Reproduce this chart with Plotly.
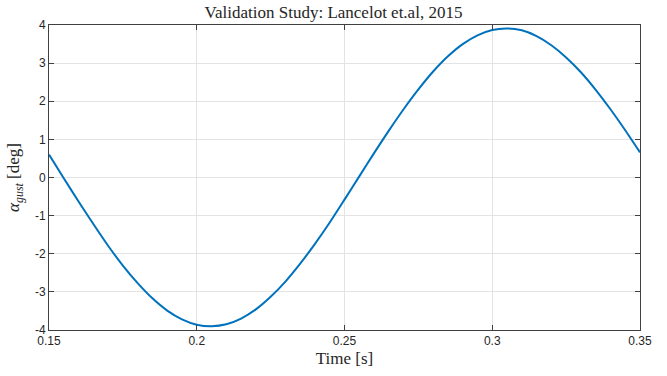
import plotly.graph_objects as go

time_s = [0.150, 0.155, 0.160, 0.165, 0.170, 0.175, 0.180, 0.185, 0.190, 0.195,
          0.200, 0.205, 0.210, 0.215, 0.220, 0.225, 0.230, 0.235, 0.240, 0.245,
          0.250, 0.255, 0.260, 0.265, 0.270, 0.275, 0.280, 0.285, 0.290, 0.295,
          0.300, 0.305, 0.310, 0.315, 0.320, 0.325, 0.330, 0.335, 0.340, 0.345,
          0.350]
alpha_gust = [0.60, -0.02, -0.63, -1.22, -1.79, -2.31, -2.77, -3.17, -3.49, -3.72,
              -3.86, -3.90, -3.85, -3.70, -3.46, -3.13, -2.73, -2.26, -1.74, -1.18,
              -0.58, 0.03, 0.64, 1.23, 1.79, 2.31, 2.78, 3.18, 3.50, 3.73,
              3.87, 3.91, 3.86, 3.71, 3.47, 3.15, 2.76, 2.30, 1.79, 1.24,
              0.66]

x_ticks = [0.15, 0.2, 0.25, 0.3, 0.35]
x_ticklabels = ["0.15", "0.2", "0.25", "0.3", "0.35"]
y_ticks = [-4, -3, -2, -1, 0, 1, 2, 3, 4]
y_ticklabels = ["-4", "-3", "-2", "-1", "0", "1", "2", "3", "4"]

fig = go.Figure()
fig.add_trace(go.Scatter(x=time_s, y=alpha_gust, mode="lines",
                         line=dict(color="#0072BD", width=2, shape="spline", smoothing=0.6),
                         showlegend=False, hoverinfo="skip"))

axis_common = dict(showline=True, linecolor="#404040", linewidth=1, mirror="ticks",
                   ticks="inside", ticklen=5, tickcolor="#404040", tickwidth=1,
                   showgrid=True, gridcolor="#e3e3e3", gridwidth=1, zeroline=False,
                   tickfont=dict(family="Liberation Sans, Arial", size=12, color="#262626"))

fig.update_layout(
    width=667, height=376,
    margin=dict(l=49, r=27, t=25, b=46),
    paper_bgcolor="white", plot_bgcolor="white",
    title=dict(text="Validation Study: Lancelot et.al, 2015", x=0.5, xanchor="center",
               y=0.968, yanchor="middle",
               font=dict(family="Liberation Serif, DejaVu Serif", size=17, color="#262626")),
    xaxis=dict(range=[0.15, 0.35], tickvals=x_ticks, ticktext=x_ticklabels,
               title=dict(text="Time [s]", standoff=4,
                          font=dict(family="Liberation Serif, DejaVu Serif", size=17, color="#262626")),
               **axis_common),
    yaxis=dict(range=[-4, 4], tickvals=y_ticks, ticktext=y_ticklabels,
               title=dict(text="<i>α</i><sub><i>gust</i></sub> [deg]", standoff=10,
                          font=dict(family="Liberation Serif, DejaVu Serif", size=17, color="#262626")),
               **axis_common),
)

fig.write_html("out.html")
